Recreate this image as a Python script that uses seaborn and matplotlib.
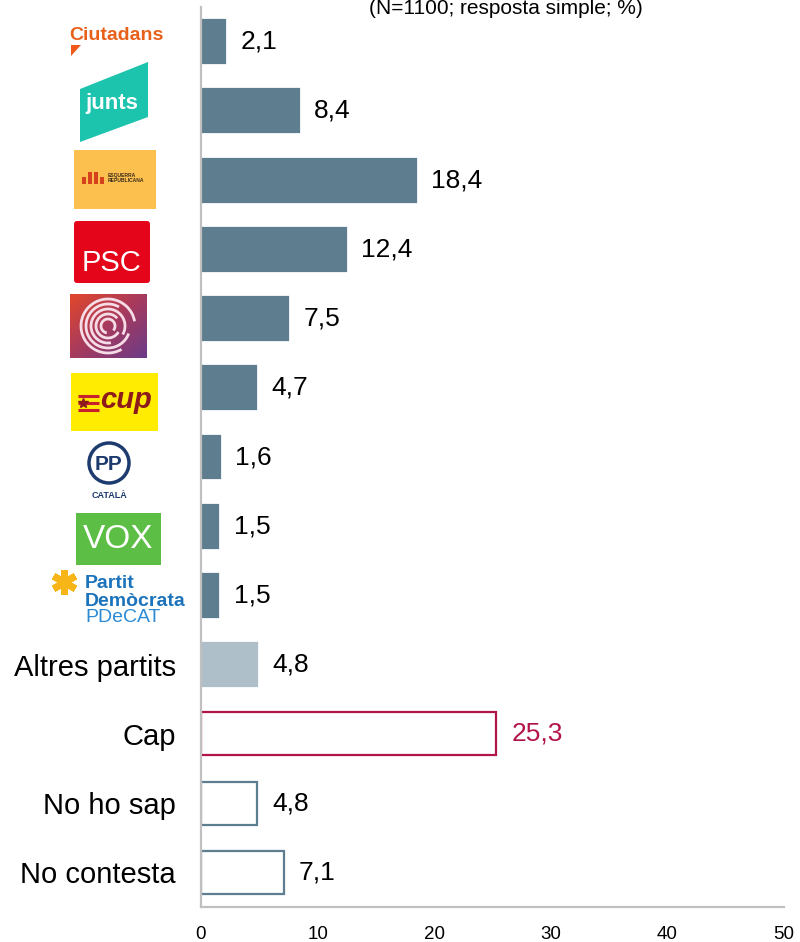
import matplotlib
matplotlib.use("Agg")
import matplotlib.pyplot as plt
import seaborn as sns
import numpy as np
import pandas as pd
from matplotlib.patches import Polygon, Rectangle, FancyBboxPatch, Circle, Arc
from matplotlib.colors import LinearSegmentedColormap

# ---------------- data ----------------
categories = ["Ciutadans", "Junts", "ERC", "PSC", "Catalunya en Comú", "CUP",
              "PP", "Vox", "PDeCAT", "Altres partits", "Cap", "No ho sap",
              "No contesta"]
values = [2.1, 8.4, 18.4, 12.4, 7.5, 4.7, 1.6, 1.5, 1.5, 4.8, 25.3, 4.8, 7.1]
tick_labels = ["", "", "", "", "", "", "", "", "",
               "Altres partits", "Cap", "No ho sap", "No contesta"]
x_ticks = [0, 10, 20, 30, 40, 50]
subtitle = "(N=1100; resposta simple; %)"

PARTY = "#5E7D8F"
CRIMSON = "#B3134B"
fill_colors = [PARTY] * 9 + ["#AFBFC9", "white", "white", "white"]
edge_colors = [PARTY] * 9 + ["#AFBFC9", CRIMSON, PARTY, PARTY]
label_colors = ["black"] * 10 + [CRIMSON, "black", "black"]

# ---------------- style ----------------
sns.set_theme(style="white")
plt.rcParams["font.family"] = ["Liberation Sans", "DejaVu Sans"]

W, H = 800, 942
fig = plt.figure(figsize=(W / 100, H / 100), dpi=100)
ax = fig.add_axes([201 / W, 35 / H, 583 / W, 900 / H])

df = pd.DataFrame({"cat": categories, "val": values})
sns.barplot(data=df, x="val", y="cat", hue="cat", palette=fill_colors,
            legend=False, width=0.62, orient="h", saturation=1, ax=ax)

for patch, ec in zip(ax.patches, edge_colors):
    patch.set_edgecolor(ec)
    patch.set_linewidth(1.6)

for cont, col, v in zip(ax.containers, label_colors, values):
    ax.bar_label(cont, labels=[f"{v:.1f}".replace(".", ",")], padding=11,
                 fontsize=19, color=col)

ax.set_xlim(0, 50)
ax.set_ylim(12.5, -0.5)
ax.set_xticks(x_ticks)
ax.set_xticklabels([str(t) for t in x_ticks], fontsize=13.5)
ax.set_yticks(range(len(categories)))
ax.set_yticklabels(tick_labels, fontsize=21, color="black")
ax.tick_params(axis="y", length=0, pad=18)
ax.tick_params(axis="x", length=0, pad=14, colors="black")
ax.set_xlabel("")
ax.set_ylabel("")
for s in ["top", "right"]:
    ax.spines[s].set_visible(False)
for s in ["left", "bottom"]:
    ax.spines[s].set_color("#C0C0C0")
    ax.spines[s].set_linewidth(1.6)

fig.text(506 / W, 1 - 13.5 / H, subtitle, ha="center", va="baseline",
         fontsize=15, color="black")

# ---------------- logos (overlay in pixel units) ----------------
ov = fig.add_axes([0, 0, 1, 1])
ov.patch.set_alpha(0)
ov.axis("off")

# Ciutadans
ov.text(116, 35, "Ciutadans", ha="center", va="center", fontsize=14,
        fontweight="bold", color="#E8611A")
ov.add_patch(Polygon([(71, 45), (81, 45), (71, 56)], closed=True,
                     color="#F05A1A", lw=0))

# Junts
ov.add_patch(Polygon([(80, 89), (148, 62), (148, 117), (80, 142)],
                     closed=True, color="#1CC3AD", lw=0))
ov.text(112, 103, "junts", ha="center", va="center", fontsize=16,
        fontweight="bold", color="white")

# ERC
ov.add_patch(Rectangle((74, 150), 82, 59, color="#FCC04F", lw=0))
for xc, h in zip([84, 90, 96, 102], [7, 12, 12, 7]):
    ov.add_patch(Rectangle((xc - 1.8, 184 - h), 3.6, h, color="#D6411E", lw=0))
ov.text(108, 175, "ESQUERRA", ha="left", va="center", fontsize=3.6,
        fontweight="bold", color="#3A2A1A")
ov.text(108, 181, "REPUBLICANA", ha="left", va="center", fontsize=3.6,
        fontweight="bold", color="#3A2A1A")

# PSC
ov.add_patch(FancyBboxPatch((74, 221), 76, 62,
                            boxstyle="round,pad=0,rounding_size=3",
                            color="#E4051A", lw=0))
ov.text(112, 263, "PSC", ha="center", va="center", fontsize=21,
        color="white")

# Catalunya en Comu (gradient square with arcs)
cmap = LinearSegmentedColormap.from_list("comu", ["#E2472B", "#A63A5E", "#6B3C88"])
gi, gj = np.mgrid[0:1:64j, 0:1:77j]
ov.imshow((gi + gj) / 2, cmap=cmap, extent=[70, 147, 358, 294],
          origin="upper", aspect="auto", interpolation="bilinear")
for r, t1, t2 in [(27, 60, 350), (22, 20, 300), (17, 80, 390),
                  (12, 30, 320), (7, 100, 400)]:
    ov.add_patch(Arc((108, 326), 2 * r, 2 * r, theta1=t1, theta2=t2,
                     color="#F6DCE6", lw=2))

# CUP
ov.add_patch(Rectangle((71, 373), 87, 58, color="#FFEC00", lw=0))
for yy in [396, 403, 410]:
    ov.plot([78, 99], [yy, yy], color="#C8202F", lw=2.2,
            solid_capstyle="butt")
ov.plot([83], [403], marker="*", markersize=7, color="#8E1B1B", lw=0)
ov.text(126, 400, "cup", ha="center", va="center", fontsize=21,
        fontweight="bold", fontstyle="italic", color="#8E1B1B")

# PP
ov.add_patch(Circle((109, 463), 20, fill=False, ec="#1D3B6E", lw=2.5))
ov.text(109, 465, "PP", ha="center", va="center", fontsize=15,
        fontweight="bold", color="#1D3B6E")
ov.text(109, 495, "CATALÀ", ha="center", va="center", fontsize=6.5,
        fontweight="bold", color="#1D3B6E")

# VOX
ov.add_patch(Rectangle((76, 513), 85, 52, color="#5DBE45", lw=0))
ov.text(118, 540, "VOX", ha="center", va="center", fontsize=24,
        color="white")

# PDeCAT
ov.plot([64], [582], marker=(6, 2, 0), markersize=18, mew=5,
        color="#F7B518", lw=0)
ov.text(85, 584, "Partit", ha="left", va="center", fontsize=14,
        fontweight="bold", color="#1B74BB")
ov.text(85, 601, "Demòcrata", ha="left", va="center", fontsize=14,
        fontweight="bold", color="#1B74BB")
ov.text(85, 618, "PDeCAT", ha="left", va="center", fontsize=14,
        color="#2A8AD4")

ov.set_xlim(0, W)
ov.set_ylim(H, 0)

fig.savefig("out.png", dpi=100)
